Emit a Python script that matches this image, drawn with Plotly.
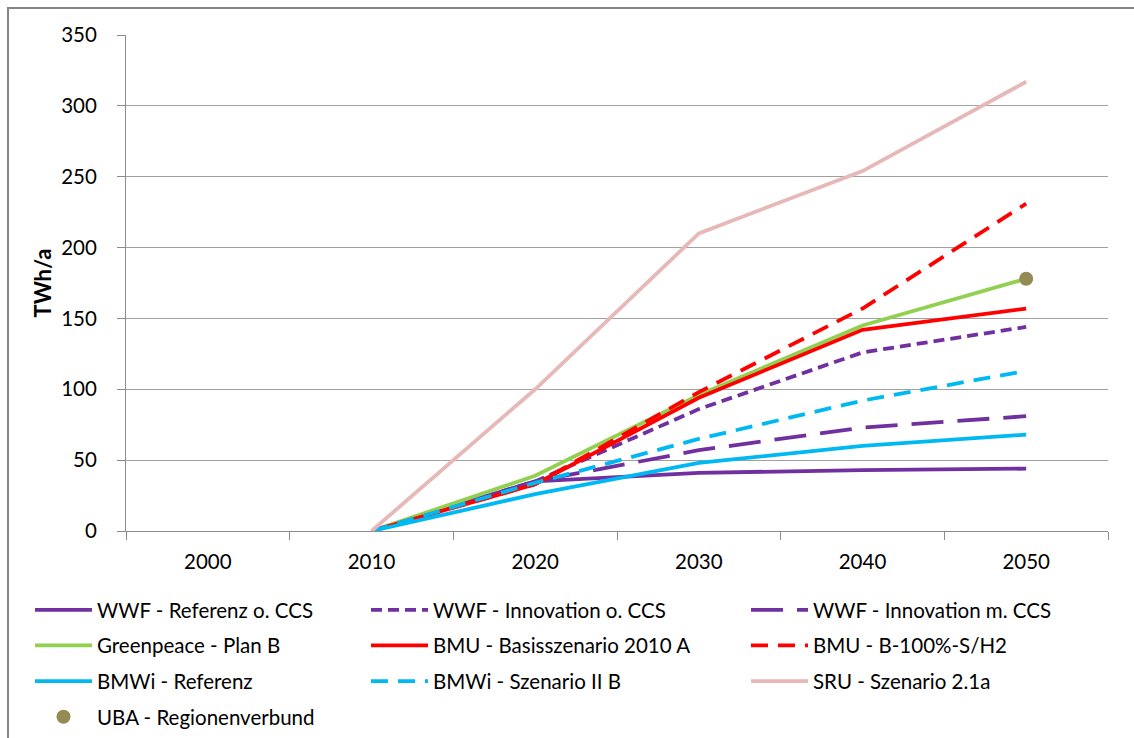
import plotly.graph_objects as go

# Stromerzeugung aus erneuerbaren Quellen, Szenarien 2010-2050 (TWh/a)
years = ["2000", "2010", "2020", "2030", "2040", "2050"]

wwf_referenz = [None, 0, 35, 41, 43, 44]
wwf_innovation_o_ccs = [None, 0, 35, 86, 126, 144]
wwf_innovation_m_ccs = [None, 0, 35, 57, 73, 81]
greenpeace_plan_b = [None, 0, 39, 96, 145, 178]
bmu_basis_2010a = [None, 0, 33, 94, 142, 157]
bmu_b100_s_h2 = [None, 0, 33, 98, 157, 231]
bmwi_referenz = [None, 0, 26, 48, 60, 68]
bmwi_szenario_2b = [None, 0, 34, 65, 92, 113]
sru_szenario_21a = [None, 0, 100, 210, 254, 317]
uba_regionenverbund = [None, None, None, None, None, 178]

PURPLE = "#7030A0"
GREEN = "#92D050"
RED = "#FF0000"
CYAN = "#00B8F2"
ROSE = "#E6B9B8"
OLIVE = "#948A54"

FONT = "Lato"
FS = 20.5
W = 3.8

series = [
    ("WWF - Referenz o. CCS", wwf_referenz, PURPLE, "solid", "legend"),
    ("WWF - Innovation o. CCS", wwf_innovation_o_ccs, PURPLE, "11px,6px", "legend2"),
    ("WWF - Innovation m. CCS", wwf_innovation_m_ccs, PURPLE, "32px,14px", "legend3"),
    ("Greenpeace - Plan B", greenpeace_plan_b, GREEN, "solid", "legend"),
    ("BMU - Basisszenario 2010 A", bmu_basis_2010a, RED, "solid", "legend2"),
    ("BMU - B-100%-S/H2", bmu_b100_s_h2, RED, "17px,10px", "legend3"),
    ("BMWi - Referenz", bmwi_referenz, CYAN, "solid", "legend"),
    ("BMWi - Szenario II B", bmwi_szenario_2b, CYAN, "17px,10px", "legend2"),
    ("SRU - Szenario 2.1a", sru_szenario_21a, ROSE, "solid", "legend3"),
]

fig = go.Figure()
for i, (name, vals, color, dash, leg) in enumerate(series):
    fig.add_trace(go.Scatter(
        x=years, y=vals, name=name, mode="lines",
        line=dict(color=color, width=W, dash=dash),
        connectgaps=False, legend=leg, legendgroup=f"g{i}",
    ))

fig.add_trace(go.Scatter(
    x=years, y=uba_regionenverbund, name="UBA - Regionenverbund", mode="markers",
    marker=dict(color=OLIVE, size=14), legend="legend", legendgroup="g9",
))

L, R, T, B = 126, 26, 35, 207
PW = 1134 - L - R
PH = 738 - T - B


def px_x(p):
    return (p - L) / PW


def px_y(p):
    return (738 - B - p) / PH


legend_common = dict(
    orientation="v", xanchor="left", yanchor="top",
    font=dict(family=FONT, size=FS, color="#000000"),
    itemwidth=57, tracegroupgap=6, bgcolor="rgba(0,0,0,0)",
    borderwidth=0,
)

fig.update_layout(
    width=1134, height=738, autosize=False,
    margin=dict(l=L, r=R, t=T, b=B, pad=0, autoexpand=False),
    paper_bgcolor="white", plot_bgcolor="white",
    font=dict(family=FONT, size=FS, color="#000000"),
    showlegend=True,
    legend=dict(x=px_x(30), y=px_y(590), **legend_common),
    legend2=dict(x=px_x(366), y=px_y(590), **legend_common),
    legend3=dict(x=px_x(746), y=px_y(590), **legend_common),
    xaxis=dict(
        type="category", categoryorder="array", categoryarray=years,
        range=[-0.5, 5.5], autorange=False,
        tickson="boundaries", ticks="outside", ticklen=8, tickcolor="#8C8C8C",
        showline=True, linecolor="#8C8C8C", linewidth=1,
        showgrid=False, zeroline=False, ticklabelstandoff=12,
        tickfont=dict(family=FONT, size=FS, color="#000000"),
    ),
    yaxis=dict(
        range=[0, 350], dtick=50, tick0=0,
        ticks="outside", ticklen=8, tickcolor="#8C8C8C",
        showline=True, linecolor="#8C8C8C", linewidth=1,
        showgrid=True, gridcolor="#A0A0A0", gridwidth=1, zeroline=False,
        ticklabelstandoff=16,
        tickfont=dict(family=FONT, size=FS, color="#000000"),
        title=dict(text="<b>TWh/a</b>", font=dict(family=FONT, size=22, color="#000000"), standoff=3),
    ),
    shapes=[dict(
        type="rect", xref="paper", yref="paper",
        x0=px_x(8), x1=px_x(1145), y0=px_y(750), y1=px_y(8),
        line=dict(color="#868686", width=2), fillcolor="rgba(0,0,0,0)", layer="below",
    )],
)

fig.write_html("out.html")
